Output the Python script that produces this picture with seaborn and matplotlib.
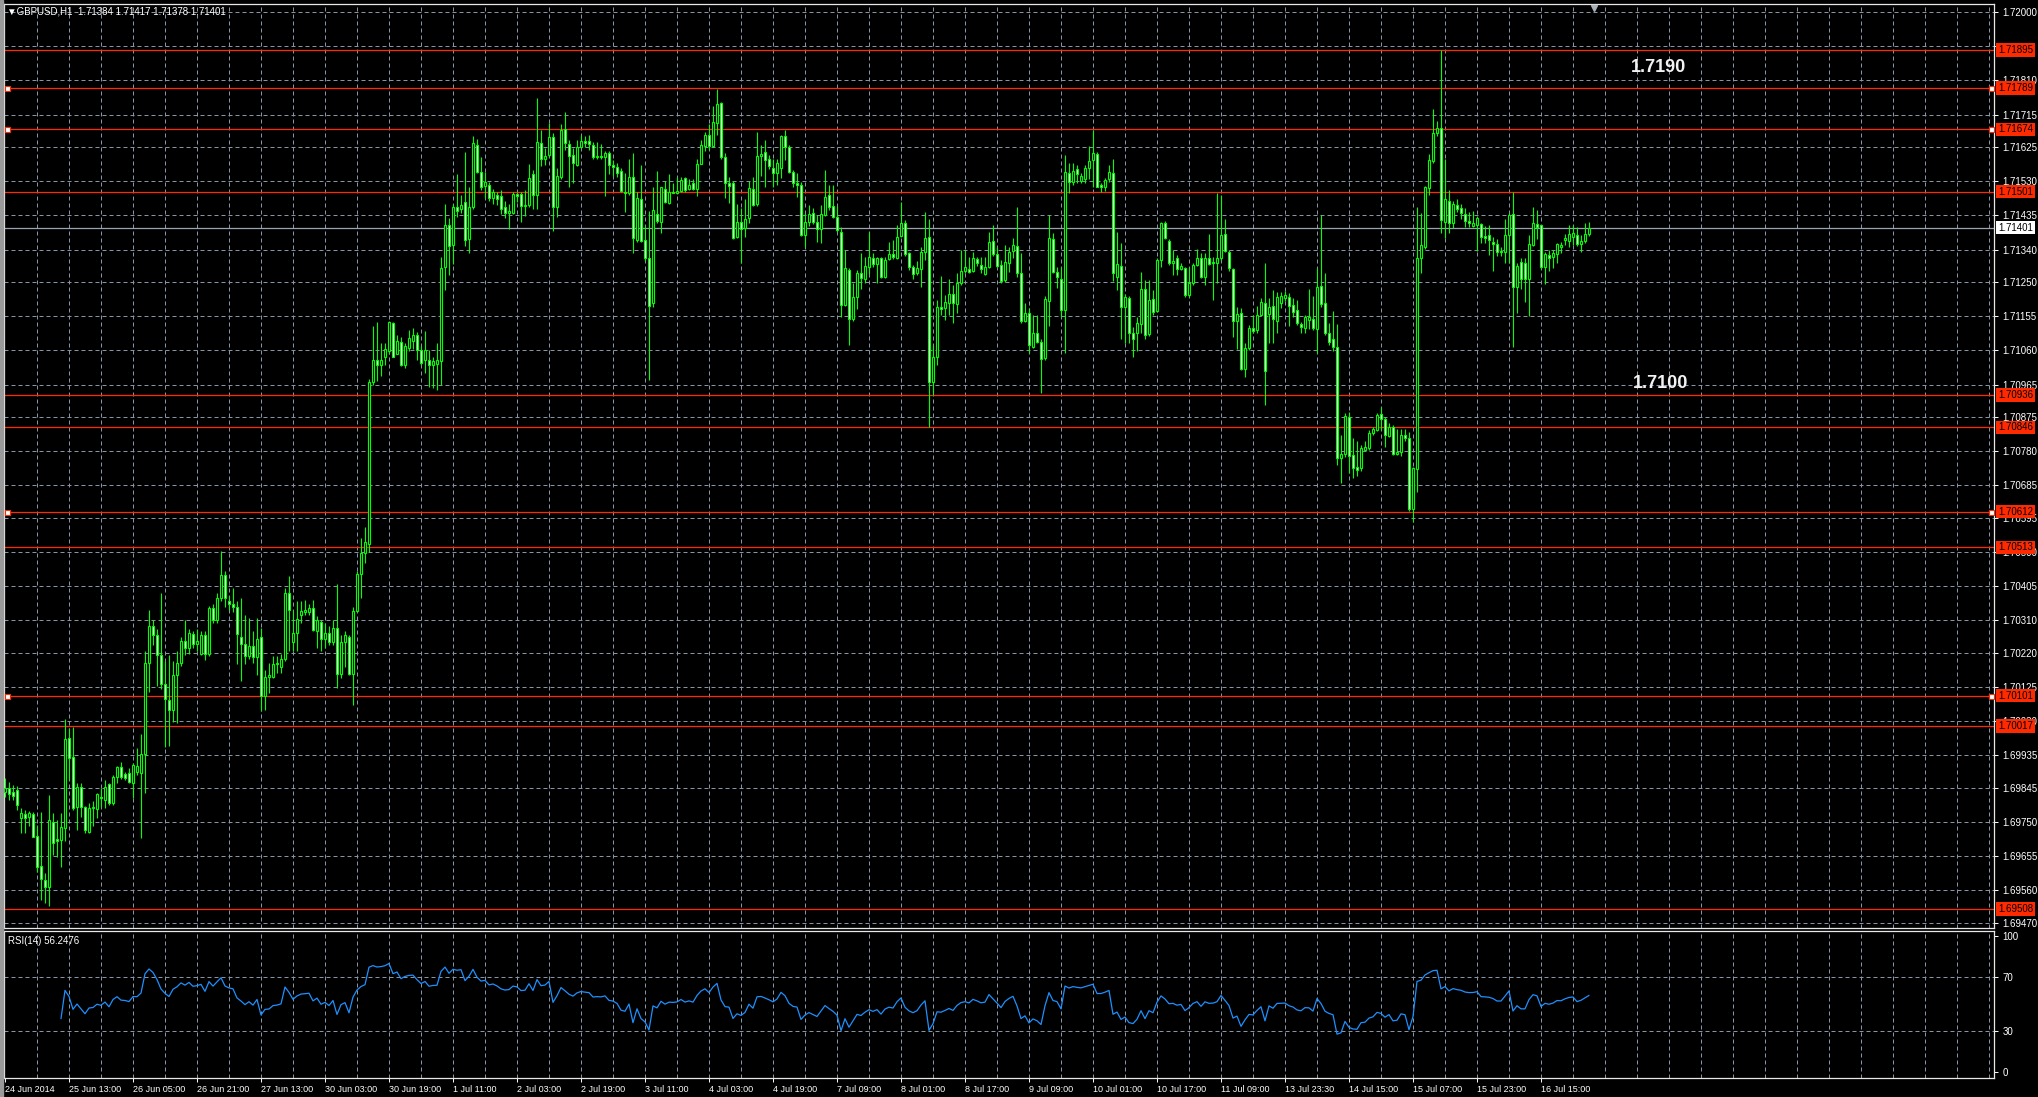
import numpy as np
import pandas as pd
import matplotlib
matplotlib.use("Agg")
import matplotlib.pyplot as plt
from matplotlib.patches import Rectangle
import seaborn as sns

# GBPUSD H1 candles (one value per bar)
opens = [
    1.69834, 1.69844, 1.69833, 1.69839, 1.69762, 1.69771, 1.69763, 1.69771, 1.69711, 1.69628,
    1.69589, 1.69570, 1.69751, 1.69702, 1.69700, 1.69732, 1.69983, 1.69930, 1.69793, 1.69846,
    1.69793, 1.69723, 1.69789, 1.69785, 1.69820, 1.69811, 1.69856, 1.69804, 1.69874, 1.69902,
    1.69883, 1.69885, 1.69857, 1.69890, 1.69887, 1.69938, 1.70193, 1.70295, 1.70269, 1.70214,
    1.70132, 1.70089, 1.70061, 1.70157, 1.70193, 1.70253, 1.70234, 1.70272, 1.70244, 1.70218,
    1.70269, 1.70218, 1.70345, 1.70310, 1.70371, 1.70436, 1.70363, 1.70355, 1.70348, 1.70264,
    1.70244, 1.70211, 1.70238, 1.70208, 1.70264, 1.70101, 1.70153, 1.70153, 1.70188, 1.70180,
    1.70203, 1.70386, 1.70249, 1.70275, 1.70325, 1.70333, 1.70333, 1.70345, 1.70280, 1.70305,
    1.70259, 1.70275, 1.70249, 1.70290, 1.70162, 1.70249, 1.70264, 1.70162, 1.70336, 1.70440,
    1.70497, 1.70523, 1.70973, 1.71034, 1.71019, 1.71041, 1.71057, 1.71137, 1.71049, 1.71083,
    1.71019, 1.71068, 1.71087, 1.71102, 1.71061, 1.71034, 1.71034, 1.71019, 1.71022, 1.71031,
    1.71293, 1.71407, 1.71354, 1.71457, 1.71453, 1.71473, 1.71369, 1.71457, 1.71631, 1.71555,
    1.71517, 1.71519, 1.71483, 1.71491, 1.71488, 1.71457, 1.71442, 1.71442, 1.71494, 1.71494,
    1.71460, 1.71464, 1.71549, 1.71491, 1.71637, 1.71591, 1.71603, 1.71652, 1.71459, 1.71541,
    1.71674, 1.71633, 1.71603, 1.71575, 1.71624, 1.71643, 1.71643, 1.71631, 1.71596, 1.71600,
    1.71598, 1.71607, 1.71575, 1.71570, 1.71559, 1.71501, 1.71496, 1.71541, 1.71367, 1.71480,
    1.71368, 1.71316, 1.71191, 1.71439, 1.71418, 1.71507, 1.71470, 1.71501, 1.71498, 1.71504,
    1.71538, 1.71507, 1.71524, 1.71507, 1.71578, 1.71628, 1.71658, 1.71628, 1.71691, 1.71748,
    1.71598, 1.71524, 1.71526, 1.71374, 1.71418, 1.71399, 1.71427, 1.71507, 1.71467, 1.71600,
    1.71612, 1.71591, 1.71568, 1.71552, 1.71566, 1.71655, 1.71624, 1.71556, 1.71526, 1.71519,
    1.71380, 1.71418, 1.71443, 1.71418, 1.71396, 1.71436, 1.71492, 1.71461, 1.71431, 1.71390,
    1.71186, 1.71283, 1.71146, 1.71209, 1.71274, 1.71257, 1.71292, 1.71318, 1.71300, 1.71316,
    1.71263, 1.71313, 1.71328, 1.71318, 1.71378, 1.71415, 1.71330, 1.71291, 1.71274, 1.71285,
    1.71334, 1.71376, 1.70973, 1.71043, 1.71180, 1.71177, 1.71193, 1.71218, 1.71189, 1.71246,
    1.71281, 1.71285, 1.71281, 1.71313, 1.71297, 1.71272, 1.71291, 1.71365, 1.71328, 1.71297,
    1.71256, 1.71304, 1.71337, 1.71350, 1.71276, 1.71143, 1.71163, 1.71070, 1.71109, 1.71084,
    1.71038, 1.71198, 1.71369, 1.71279, 1.71257, 1.71172, 1.71553, 1.71529, 1.71563, 1.71531,
    1.71535, 1.71566, 1.71589, 1.71605, 1.71519, 1.71515, 1.71535, 1.71553, 1.71265, 1.71294,
    1.71180, 1.71205, 1.71109, 1.71107, 1.71133, 1.71230, 1.71105, 1.71202, 1.71170, 1.71311,
    1.71415, 1.71365, 1.71304, 1.71316, 1.71285, 1.71288, 1.71214, 1.71246, 1.71297, 1.71318,
    1.71263, 1.71318, 1.71306, 1.71304, 1.71316, 1.71383, 1.71334, 1.71285, 1.71143, 1.71163,
    1.71007, 1.71066, 1.71121, 1.71117, 1.71158, 1.71193, 1.71161, 1.71183, 1.71143, 1.71191,
    1.71205, 1.71207, 1.71186, 1.71172, 1.71133, 1.71121, 1.71145, 1.71146, 1.71119, 1.71239,
    1.71191, 1.71109, 1.71091, 1.71070, 1.70760, 1.70772, 1.70874, 1.70770, 1.70737, 1.70733,
    1.70784, 1.70788, 1.70830, 1.70839, 1.70883, 1.70869, 1.70822, 1.70846, 1.70772, 1.70777,
    1.70825, 1.70816, 1.70619, 1.70730, 1.71318, 1.71348, 1.71510, 1.71585, 1.71663, 1.71677,
    1.71418, 1.71476, 1.71415, 1.71464, 1.71455, 1.71439, 1.71420, 1.71406, 1.71408, 1.71411,
    1.71378, 1.71380, 1.71362, 1.71355, 1.71337, 1.71334, 1.71380, 1.71439, 1.71237, 1.71306,
    1.71304, 1.71257, 1.71353, 1.71411, 1.71408, 1.71291, 1.71325, 1.71320, 1.71328, 1.71348,
    1.71367, 1.71365, 1.71376, 1.71380, 1.71355, 1.71365, 1.71384,
]
highs = [
    1.69871, 1.69862, 1.69853, 1.69850, 1.69790, 1.69783, 1.69781, 1.69779, 1.69742, 1.69779,
    1.69609, 1.69825, 1.69774, 1.69756, 1.69774, 1.70036, 1.70010, 1.70015, 1.69857, 1.69859,
    1.69795, 1.69804, 1.69807, 1.69830, 1.69844, 1.69867, 1.69859, 1.69881, 1.69906, 1.69918,
    1.69890, 1.69899, 1.69913, 1.69955, 1.69995, 1.70226, 1.70340, 1.70310, 1.70287, 1.70386,
    1.70196, 1.70214, 1.70196, 1.70226, 1.70264, 1.70310, 1.70287, 1.70280, 1.70287, 1.70280,
    1.70280, 1.70351, 1.70355, 1.70386, 1.70503, 1.70447, 1.70378, 1.70401, 1.70363, 1.70371,
    1.70325, 1.70317, 1.70280, 1.70317, 1.70290, 1.70173, 1.70193, 1.70211, 1.70211, 1.70218,
    1.70401, 1.70432, 1.70340, 1.70363, 1.70363, 1.70366, 1.70355, 1.70366, 1.70321, 1.70310,
    1.70302, 1.70295, 1.70310, 1.70412, 1.70269, 1.70280, 1.70269, 1.70348, 1.70447, 1.70538,
    1.70569, 1.70980, 1.71128, 1.71140, 1.71080, 1.71080, 1.71143, 1.71140, 1.71102, 1.71098,
    1.71080, 1.71118, 1.71122, 1.71110, 1.71072, 1.71113, 1.71061, 1.71041, 1.71080, 1.71320,
    1.71468, 1.71427, 1.71468, 1.71549, 1.71491, 1.71610, 1.71514, 1.71656, 1.71646, 1.71598,
    1.71555, 1.71529, 1.71509, 1.71499, 1.71506, 1.71476, 1.71468, 1.71499, 1.71499, 1.71499,
    1.71506, 1.71579, 1.71560, 1.71762, 1.71672, 1.71621, 1.71691, 1.71663, 1.71566, 1.71689,
    1.71721, 1.71644, 1.71621, 1.71644, 1.71658, 1.71655, 1.71658, 1.71640, 1.71640, 1.71633,
    1.71615, 1.71615, 1.71589, 1.71580, 1.71566, 1.71552, 1.71593, 1.71607, 1.71501, 1.71575,
    1.71408, 1.71448, 1.71513, 1.71559, 1.71515, 1.71531, 1.71550, 1.71524, 1.71541, 1.71543,
    1.71543, 1.71535, 1.71535, 1.71591, 1.71644, 1.71667, 1.71689, 1.71739, 1.71785, 1.71751,
    1.71607, 1.71543, 1.71531, 1.71468, 1.71455, 1.71480, 1.71531, 1.71543, 1.71667, 1.71631,
    1.71644, 1.71603, 1.71593, 1.71593, 1.71658, 1.71672, 1.71631, 1.71561, 1.71552, 1.71529,
    1.71441, 1.71464, 1.71455, 1.71436, 1.71464, 1.71561, 1.71519, 1.71519, 1.71461, 1.71404,
    1.71339, 1.71288, 1.71246, 1.71283, 1.71330, 1.71320, 1.71390, 1.71330, 1.71320, 1.71320,
    1.71320, 1.71362, 1.71367, 1.71408, 1.71473, 1.71422, 1.71334, 1.71297, 1.71307, 1.71348,
    1.71445, 1.71424, 1.71075, 1.71200, 1.71267, 1.71214, 1.71257, 1.71242, 1.71274, 1.71339,
    1.71339, 1.71320, 1.71332, 1.71320, 1.71320, 1.71320, 1.71390, 1.71408, 1.71348, 1.71311,
    1.71353, 1.71348, 1.71371, 1.71459, 1.71330, 1.71191, 1.71177, 1.71158, 1.71158, 1.71093,
    1.71211, 1.71436, 1.71387, 1.71293, 1.71291, 1.71603, 1.71580, 1.71580, 1.71575, 1.71552,
    1.71575, 1.71628, 1.71672, 1.71612, 1.71526, 1.71538, 1.71575, 1.71593, 1.71390, 1.71357,
    1.71217, 1.71211, 1.71126, 1.71154, 1.71279, 1.71256, 1.71256, 1.71228, 1.71316, 1.71418,
    1.71420, 1.71369, 1.71339, 1.71325, 1.71304, 1.71293, 1.71293, 1.71302, 1.71343, 1.71330,
    1.71330, 1.71383, 1.71320, 1.71498, 1.71492, 1.71424, 1.71339, 1.71288, 1.71180, 1.71177,
    1.71080, 1.71131, 1.71158, 1.71183, 1.71205, 1.71304, 1.71205, 1.71228, 1.71223, 1.71223,
    1.71226, 1.71219, 1.71205, 1.71200, 1.71140, 1.71158, 1.71230, 1.71211, 1.71288, 1.71436,
    1.71276, 1.71135, 1.71170, 1.71133, 1.70825, 1.70885, 1.70890, 1.70816, 1.70807, 1.70797,
    1.70807, 1.70839, 1.70848, 1.70885, 1.70902, 1.70874, 1.70857, 1.70853, 1.70841, 1.70843,
    1.70841, 1.70832, 1.70737, 1.71459, 1.71441, 1.71517, 1.71605, 1.71730, 1.71698, 1.71895,
    1.71591, 1.71506, 1.71476, 1.71480, 1.71467, 1.71455, 1.71445, 1.71448, 1.71432, 1.71415,
    1.71406, 1.71408, 1.71376, 1.71369, 1.71346, 1.71424, 1.71443, 1.71501, 1.71304, 1.71316,
    1.71316, 1.71380, 1.71457, 1.71450, 1.71408, 1.71332, 1.71339, 1.71339, 1.71359, 1.71362,
    1.71383, 1.71408, 1.71408, 1.71404, 1.71380, 1.71413, 1.71417,
]
lows = [
    1.69820, 1.69811, 1.69811, 1.69783, 1.69719, 1.69719, 1.69739, 1.69707, 1.69612, 1.69533,
    1.69524, 1.69518, 1.69658, 1.69652, 1.69624, 1.69698, 1.69867, 1.69783, 1.69728, 1.69765,
    1.69720, 1.69720, 1.69739, 1.69760, 1.69793, 1.69788, 1.69797, 1.69797, 1.69859, 1.69869,
    1.69867, 1.69857, 1.69816, 1.69881, 1.69705, 1.69830, 1.70112, 1.70241, 1.70127, 1.70119,
    1.69959, 1.69962, 1.70028, 1.70024, 1.70183, 1.70214, 1.70218, 1.70234, 1.70226, 1.70214,
    1.70199, 1.70211, 1.70302, 1.70302, 1.70363, 1.70348, 1.70340, 1.70333, 1.70188, 1.70142,
    1.70188, 1.70203, 1.70193, 1.70157, 1.70059, 1.70061, 1.70107, 1.70150, 1.70165, 1.70165,
    1.70196, 1.70226, 1.70226, 1.70226, 1.70302, 1.70325, 1.70325, 1.70280, 1.70234, 1.70226,
    1.70234, 1.70241, 1.70241, 1.70122, 1.70150, 1.70180, 1.70157, 1.70074, 1.70333, 1.70371,
    1.70470, 1.70500, 1.70965, 1.70976, 1.70988, 1.71019, 1.71049, 1.71041, 1.71049, 1.71016,
    1.71011, 1.71057, 1.71064, 1.71034, 1.71019, 1.70996, 1.70958, 1.70955, 1.70950, 1.70965,
    1.71229, 1.71270, 1.71300, 1.71430, 1.71442, 1.71351, 1.71331, 1.71453, 1.71552, 1.71506,
    1.71483, 1.71476, 1.71468, 1.71464, 1.71438, 1.71427, 1.71396, 1.71438, 1.71473, 1.71418,
    1.71433, 1.71457, 1.71453, 1.71453, 1.71572, 1.71575, 1.71598, 1.71392, 1.71431, 1.71535,
    1.71617, 1.71513, 1.71524, 1.71572, 1.71621, 1.71626, 1.71617, 1.71591, 1.71591, 1.71591,
    1.71489, 1.71550, 1.71544, 1.71543, 1.71501, 1.71445, 1.71492, 1.71330, 1.71362, 1.71362,
    1.71307, 1.70978, 1.71180, 1.71415, 1.71387, 1.71470, 1.71468, 1.71496, 1.71494, 1.71501,
    1.71501, 1.71506, 1.71506, 1.71489, 1.71578, 1.71615, 1.71617, 1.71626, 1.71658, 1.71593,
    1.71482, 1.71470, 1.71369, 1.71371, 1.71302, 1.71376, 1.71413, 1.71461, 1.71461, 1.71544,
    1.71515, 1.71563, 1.71515, 1.71519, 1.71538, 1.71589, 1.71554, 1.71513, 1.71487, 1.71378,
    1.71348, 1.71406, 1.71411, 1.71362, 1.71359, 1.71433, 1.71450, 1.71427, 1.71390, 1.71152,
    1.71182, 1.71075, 1.71143, 1.71174, 1.71230, 1.71246, 1.71272, 1.71291, 1.71246, 1.71260,
    1.71260, 1.71311, 1.71313, 1.71313, 1.71374, 1.71322, 1.71283, 1.71257, 1.71269, 1.71235,
    1.71311, 1.70848, 1.70936, 1.71020, 1.71158, 1.71144, 1.71158, 1.71135, 1.71163, 1.71242,
    1.71276, 1.71276, 1.71279, 1.71294, 1.71274, 1.71269, 1.71288, 1.71322, 1.71291, 1.71248,
    1.71251, 1.71279, 1.71316, 1.71265, 1.71137, 1.71140, 1.71052, 1.71066, 1.71080, 1.70941,
    1.71033, 1.71128, 1.71274, 1.71232, 1.71152, 1.71052, 1.71498, 1.71519, 1.71524, 1.71526,
    1.71524, 1.71535, 1.71515, 1.71513, 1.71501, 1.71504, 1.71529, 1.71254, 1.71228, 1.71093,
    1.71080, 1.71080, 1.71043, 1.71057, 1.71107, 1.71093, 1.71100, 1.71158, 1.71168, 1.71293,
    1.71369, 1.71297, 1.71269, 1.71269, 1.71283, 1.71207, 1.71207, 1.71242, 1.71294, 1.71260,
    1.71242, 1.71297, 1.71200, 1.71246, 1.71311, 1.71334, 1.71281, 1.71098, 1.71063, 1.71006,
    1.70985, 1.71061, 1.71107, 1.71109, 1.71155, 1.70908, 1.71080, 1.71080, 1.71107, 1.71177,
    1.71198, 1.71128, 1.71152, 1.71131, 1.71109, 1.71109, 1.71119, 1.71117, 1.71054, 1.71180,
    1.71103, 1.71075, 1.71059, 1.70742, 1.70693, 1.70765, 1.70719, 1.70705, 1.70710, 1.70726,
    1.70782, 1.70782, 1.70825, 1.70837, 1.70839, 1.70793, 1.70819, 1.70770, 1.70770, 1.70767,
    1.70809, 1.70615, 1.70584, 1.70668, 1.71276, 1.71343, 1.71492, 1.71580, 1.71655, 1.71387,
    1.71371, 1.71387, 1.71399, 1.71445, 1.71424, 1.71404, 1.71402, 1.71402, 1.71337, 1.71357,
    1.71357, 1.71325, 1.71281, 1.71322, 1.71322, 1.71304, 1.71302, 1.71070, 1.71163, 1.71230,
    1.71195, 1.71156, 1.71350, 1.71369, 1.71285, 1.71244, 1.71281, 1.71288, 1.71304, 1.71330,
    1.71353, 1.71348, 1.71353, 1.71350, 1.71334, 1.71359, 1.71378,
]
closes = [
    1.69844, 1.69827, 1.69823, 1.69796, 1.69774, 1.69760, 1.69774, 1.69709, 1.69624, 1.69591,
    1.69569, 1.69756, 1.69693, 1.69698, 1.69735, 1.69980, 1.69927, 1.69790, 1.69848, 1.69791,
    1.69728, 1.69788, 1.69793, 1.69827, 1.69816, 1.69848, 1.69802, 1.69874, 1.69904, 1.69874,
    1.69871, 1.69862, 1.69907, 1.69906, 1.69938, 1.70193, 1.70295, 1.70269, 1.70214, 1.70132,
    1.70092, 1.70061, 1.70157, 1.70193, 1.70253, 1.70234, 1.70275, 1.70244, 1.70253, 1.70269,
    1.70218, 1.70345, 1.70310, 1.70371, 1.70436, 1.70371, 1.70355, 1.70348, 1.70272, 1.70244,
    1.70211, 1.70238, 1.70208, 1.70259, 1.70101, 1.70153, 1.70157, 1.70188, 1.70193, 1.70203,
    1.70386, 1.70340, 1.70275, 1.70314, 1.70336, 1.70340, 1.70345, 1.70284, 1.70310, 1.70259,
    1.70275, 1.70249, 1.70290, 1.70162, 1.70249, 1.70269, 1.70162, 1.70336, 1.70440, 1.70497,
    1.70528, 1.70973, 1.71034, 1.71019, 1.71034, 1.71064, 1.71140, 1.71041, 1.71087, 1.71019,
    1.71072, 1.71095, 1.71102, 1.71061, 1.71026, 1.71061, 1.71019, 1.71031, 1.71034, 1.71290,
    1.71407, 1.71351, 1.71457, 1.71448, 1.71463, 1.71366, 1.71457, 1.71636, 1.71555, 1.71514,
    1.71529, 1.71483, 1.71499, 1.71480, 1.71453, 1.71442, 1.71448, 1.71494, 1.71488, 1.71460,
    1.71464, 1.71540, 1.71491, 1.71640, 1.71591, 1.71600, 1.71652, 1.71457, 1.71544, 1.71672,
    1.71637, 1.71600, 1.71580, 1.71624, 1.71643, 1.71637, 1.71633, 1.71596, 1.71600, 1.71598,
    1.71607, 1.71575, 1.71570, 1.71554, 1.71504, 1.71496, 1.71543, 1.71371, 1.71482, 1.71365,
    1.71318, 1.71183, 1.71450, 1.71420, 1.71513, 1.71473, 1.71501, 1.71498, 1.71504, 1.71533,
    1.71506, 1.71519, 1.71507, 1.71578, 1.71631, 1.71658, 1.71628, 1.71695, 1.71744, 1.71598,
    1.71524, 1.71518, 1.71371, 1.71418, 1.71396, 1.71424, 1.71510, 1.71464, 1.71600, 1.71605,
    1.71589, 1.71572, 1.71552, 1.71581, 1.71655, 1.71626, 1.71556, 1.71526, 1.71519, 1.71380,
    1.71418, 1.71439, 1.71418, 1.71396, 1.71439, 1.71485, 1.71457, 1.71431, 1.71394, 1.71186,
    1.71288, 1.71146, 1.71209, 1.71276, 1.71260, 1.71294, 1.71320, 1.71300, 1.71316, 1.71265,
    1.71311, 1.71328, 1.71320, 1.71376, 1.71413, 1.71328, 1.71291, 1.71272, 1.71288, 1.71334,
    1.71371, 1.70973, 1.71041, 1.71180, 1.71174, 1.71195, 1.71218, 1.71193, 1.71248, 1.71281,
    1.71291, 1.71279, 1.71316, 1.71302, 1.71285, 1.71291, 1.71362, 1.71328, 1.71294, 1.71254,
    1.71306, 1.71334, 1.71353, 1.71276, 1.71143, 1.71165, 1.71075, 1.71107, 1.71084, 1.71035,
    1.71202, 1.71371, 1.71279, 1.71265, 1.71172, 1.71556, 1.71529, 1.71559, 1.71550, 1.71544,
    1.71566, 1.71587, 1.71607, 1.71515, 1.71515, 1.71533, 1.71556, 1.71274, 1.71300, 1.71180,
    1.71207, 1.71109, 1.71091, 1.71135, 1.71230, 1.71103, 1.71200, 1.71168, 1.71311, 1.71413,
    1.71371, 1.71304, 1.71309, 1.71285, 1.71294, 1.71214, 1.71248, 1.71297, 1.71318, 1.71265,
    1.71316, 1.71300, 1.71302, 1.71316, 1.71380, 1.71337, 1.71288, 1.71143, 1.71161, 1.71007,
    1.71068, 1.71121, 1.71115, 1.71158, 1.71195, 1.71004, 1.71180, 1.71146, 1.71209, 1.71211,
    1.71214, 1.71183, 1.71168, 1.71135, 1.71126, 1.71154, 1.71152, 1.71121, 1.71235, 1.71189,
    1.71109, 1.71084, 1.71070, 1.70760, 1.70772, 1.70878, 1.70767, 1.70733, 1.70728, 1.70788,
    1.70793, 1.70830, 1.70841, 1.70881, 1.70869, 1.70825, 1.70846, 1.70772, 1.70777, 1.70825,
    1.70816, 1.70619, 1.70733, 1.71318, 1.71353, 1.71513, 1.71589, 1.71663, 1.71677, 1.71422,
    1.71480, 1.71413, 1.71467, 1.71452, 1.71443, 1.71420, 1.71413, 1.71415, 1.71427, 1.71374,
    1.71371, 1.71367, 1.71355, 1.71332, 1.71332, 1.71380, 1.71436, 1.71237, 1.71294, 1.71257,
    1.71257, 1.71355, 1.71415, 1.71404, 1.71293, 1.71328, 1.71318, 1.71330, 1.71355, 1.71353,
    1.71371, 1.71383, 1.71387, 1.71355, 1.71365, 1.71383, 1.71401,
]

# horizontal levels drawn by the trader
red_levels = [1.71895, 1.71789, 1.71674, 1.71501, 1.70936, 1.70846,
              1.70612, 1.70513, 1.70101, 1.70017, 1.69508]
selected_levels = [1.71789, 1.71674, 1.70612, 1.70101]
last_price = 1.71401

# price scale; 1.71905 sits fully under the 1.71895 box in the original, so its text is blank
price_ticks = ["1.72000", "1.71905", "1.71810", "1.71715", "1.71625", "1.71530",
               "1.71435", "1.71340", "1.71250", "1.71155", "1.71060", "1.70965",
               "1.70875", "1.70780", "1.70685", "1.70595", "1.70500", "1.70405",
               "1.70310", "1.70220", "1.70125", "1.70030", "1.69935", "1.69845",
               "1.69750", "1.69655", "1.69560", "1.69470"]
hidden_ticks = ["1.71905"]
time_labels = ["24 Jun 2014", "25 Jun 13:00", "26 Jun 05:00", "26 Jun 21:00",
               "27 Jun 13:00", "30 Jun 03:00", "30 Jun 19:00", "1 Jul 11:00",
               "2 Jul 03:00", "2 Jul 19:00", "3 Jul 11:00", "4 Jul 03:00",
               "4 Jul 19:00", "7 Jul 09:00", "8 Jul 01:00", "8 Jul 17:00",
               "9 Jul 09:00", "10 Jul 01:00", "10 Jul 17:00", "11 Jul 09:00",
               "13 Jul 23:30", "14 Jul 15:00", "15 Jul 07:00", "15 Jul 23:00",
               "16 Jul 15:00"]
rsi_ticks = [0, 30, 70, 100]

W, H = 2038, 1097
LIME = "#00ff00"
RED = "#ff2a00"
GRID = "#8794a3"

sns.set_theme(style="dark", rc={"axes.facecolor": "black", "figure.facecolor": "black",
                                "axes.edgecolor": "white", "text.color": "white",
                                "xtick.color": "white", "ytick.color": "white"})
plt.rcParams["font.family"] = ["Liberation Sans", "DejaVu Sans"]

fig = plt.figure(figsize=(W / 100, H / 100), dpi=100)
ax = fig.add_axes([4 / W, 1 - 928 / H, 1990 / W, 924 / H])
ax_rsi = fig.add_axes([4 / W, 1 - 1078 / H, 1990 / W, 147 / H])

idx = np.arange(len(closes))
o = np.array(opens)
h = np.array(highs)
l = np.array(lows)
c = np.array(closes)

# 4 px per bar, first bar 1 px inside the frame
xmin, xmax = -0.25, 497.25
ax.set_xlim(xmin, xmax)
ax.set_ylim(1.72 - 916 / 36000, 1.72 + 8 / 36000)
ax_rsi.set_xlim(xmin, xmax)
ax_rsi.set_ylim(-6 / 1.36, 100 + 5 / 1.36)

# dashed grid
tick_vals = [float(t) for t in price_ticks]
for v in tick_vals:
    ax.axhline(v, color=GRID, lw=0.72, ls=(0, (4, 3)), zorder=1)
for xv in range(8, 498, 8):
    ax.axvline(xv, color=GRID, lw=0.72, ls=(0, (4, 3)), zorder=1)
    ax_rsi.axvline(xv, color=GRID, lw=0.72, ls=(0, (4, 3)), zorder=1)
for v in [30, 70]:
    ax_rsi.axhline(v, color=GRID, lw=0.72, ls=(0, (4, 3)), zorder=1)

# levels
for lv in red_levels:
    ax.axhline(lv, color=RED, lw=0.9, zorder=2)
ax.axhline(last_price, color="#9aa3ad", lw=0.9, zorder=2)
ax.plot([0.5] * len(selected_levels), selected_levels, ls="none", marker="s", ms=3.6,
        mfc="white", mec=RED, mew=0.8, zorder=6, clip_on=False)
ax.plot([496.5] * len(selected_levels), selected_levels, ls="none", marker="s", ms=3.6,
        mfc="white", mec=RED, mew=0.8, zorder=6, clip_on=False)

# candles
ax.vlines(idx, np.minimum(l, np.minimum(o, c)), np.maximum(h, np.maximum(o, c)),
          color=LIME, lw=0.8, zorder=3)
bull = c >= o
ax.bar(idx, np.abs(c - o), bottom=np.minimum(o, c), width=0.5,
       color=np.where(bull, "black", "white"), edgecolor=LIME, linewidth=0.8, zorder=4)

# RSI(14) of the closes
delta = pd.Series(c).diff()
gain = delta.clip(lower=0).ewm(alpha=1 / 14, adjust=False, min_periods=14).mean()
loss = (-delta.clip(upper=0)).ewm(alpha=1 / 14, adjust=False, min_periods=14).mean()
rsi = 100 - 100 / (1 + gain / loss)
rsi_df = pd.DataFrame({"bar": idx, "rsi": rsi}).dropna()
sns.lineplot(data=rsi_df, x="bar", y="rsi", ax=ax_rsi, color="#1e90ff",
             linewidth=0.9, estimator=None, legend=False)

# axes styling
for a in (ax, ax_rsi):
    for s in a.spines.values():
        s.set_color("#e8e8e8")
        s.set_linewidth(0.9)
    a.set_xlabel("")
    a.set_ylabel("")
    a.yaxis.tick_right()
    a.tick_params(axis="y", which="both", right=True, left=False, length=3, width=0.7,
                  color="white", pad=3, labelsize=7, labelcolor="white")

ax.set_yticks(tick_vals)
ax.set_yticklabels(["" if t in hidden_ticks else t for t in price_ticks])
ax.tick_params(axis="x", bottom=False, labelbottom=False)

ax_rsi.set_yticks(rsi_ticks)
ax_rsi.set_yticklabels([str(v) for v in rsi_ticks])
ax_rsi.set_xticks(range(0, 16 * len(time_labels), 16))
ax_rsi.set_xticklabels(time_labels, ha="left", fontsize=6.5, color="white")
ax_rsi.tick_params(axis="x", bottom=True, length=3, width=0.7, color="white", pad=2)

# price boxes on the right scale
for lv in red_levels:
    ax.annotate(f"{lv:.5f}", xy=(1, lv), xycoords=("axes fraction", "data"),
                xytext=(4, 0), textcoords="offset pixels", ha="left", va="center",
                fontsize=7, color="black", annotation_clip=False, zorder=10,
                bbox=dict(boxstyle="square,pad=0.18", fc=RED, ec="none"))
ax.annotate(f"{last_price:.5f}", xy=(1, last_price), xycoords=("axes fraction", "data"),
            xytext=(4, 0), textcoords="offset pixels", ha="left", va="center",
            fontsize=7, color="black", annotation_clip=False, zorder=10,
            bbox=dict(boxstyle="square,pad=0.18", fc="white", ec="none"))

# hand-written notes on the chart
ax.text(413.5, 1.71846, "1.7190", ha="center", va="center", fontsize=13,
        fontweight="bold", color="#f2f2f2", zorder=8)
ax.text(414.0, 1.70968, "1.7100", ha="center", va="center", fontsize=13,
        fontweight="bold", color="#f2f2f2", zorder=8)

# chart-shift marker
ax.plot([397.25], [1.72 + 4 / 36000], marker="v", ms=5, color="#a9b1ba",
        ls="none", clip_on=False, zorder=9)

fig.text(7 / W, 1 - 12 / H, "\u25bcGBPUSD,H1  1.71384 1.71417 1.71378 1.71401",
         ha="left", va="center", fontsize=7, color="white")
fig.text(8 / W, 1 - 941 / H, "RSI(14) 56.2476", ha="left", va="center",
         fontsize=7, color="white")
fig.patches.append(Rectangle((0, 0), 3 / W, 1, transform=fig.transFigure,
                             color="#9a9a9a", zorder=0))

fig.savefig("out.png", dpi=100, facecolor="black")
